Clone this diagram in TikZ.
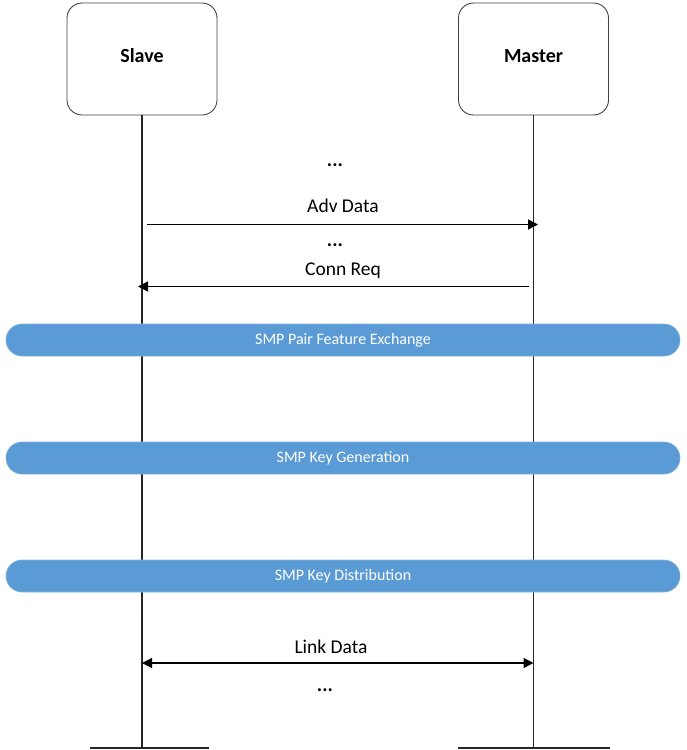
\documentclass[tikz,border=0pt]{standalone}
\usepackage{fontspec}
\setmainfont{Carlito}
\usetikzlibrary{arrows.meta}
\definecolor{bandblue}{HTML}{5B9BD5}
\definecolor{boxline}{HTML}{404040}
\tikzset{
  actor/.style={draw=boxline, line width=0.9pt, rounded corners=15pt, minimum width=150pt, minimum height=112pt, inner sep=0pt, text height=13pt, text depth=6pt, font=\fontsize{20}{24}\selectfont\bfseries},
  lifeline/.style={line width=1.4pt, draw=black!85},
  msg/.style={line width=1.4pt, -{Triangle[length=10pt,width=10pt]}},
  lbl/.style={font=\fontsize{19.5}{23}\selectfont, inner sep=0pt},
  dots/.style={font=\fontsize{20}{24}\selectfont\bfseries, inner sep=0pt},
  band/.style={fill=bandblue, draw=bandblue!80!white, line width=0.6pt, rounded corners=16pt, minimum width=674pt, minimum height=32pt, inner sep=0pt, text=white, font=\fontsize{16}{19}\selectfont},
}
\begin{document}
\begin{tikzpicture}[x=1pt,y=-1pt]
\useasboundingbox (0,0) rectangle (687,750);
% actors
\node[actor] (slave) at (142,59) {Slave};
\node[actor] (master) at (533.5,59) {Master};
% lifeline ends
\coordinate (sEnd) at (142,748);
\coordinate (mEnd) at (533.5,748);
\coordinate (sbl) at (90,748);
\coordinate (sbr) at (209,748);
\coordinate (mbl) at (458,748);
\coordinate (mbr) at (610,748);
\draw[lifeline] (slave.south) -- (sEnd);
\draw[lifeline] (master.south) -- (mEnd);
\draw[lifeline] (sbl) -- (sbr);
\draw[lifeline] (mbl) -- (mbr);
% messages
\node[dots] (d1) at (335,165) {...};
\coordinate (a1s) at (147,224.5);
\coordinate (a1e) at (538,224.5);
\draw[msg] (a1s) -- (a1e);
\node[lbl] (advlbl) at (343,206) {Adv Data};
\node[dots] (d2) at (335,245) {...};
\coordinate (a2s) at (529,286.5);
\coordinate (a2e) at (138,286.5);
\draw[msg] (a2s) -- (a2e);
\node[lbl] (connlbl) at (343,271) {Conn Req};
% bands
\node[band] (b1) at (343,340) {SMP Pair Feature Exchange};
\node[band] (b2) at (343,458) {SMP Key Generation};
\node[band] (b3) at (343,576) {SMP Key Distribution};
% link data
\coordinate (l1) at (142,663);
\coordinate (l2) at (533.5,663);
\draw[line width=1.4pt, {Triangle[length=10pt,width=10pt]}-{Triangle[length=10pt,width=10pt]}] (l1) -- (l2);
\node[lbl] (linklbl) at (331,647) {Link Data};
\node[dots] (d3) at (325,690) {...};
\end{tikzpicture}
\end{document}
